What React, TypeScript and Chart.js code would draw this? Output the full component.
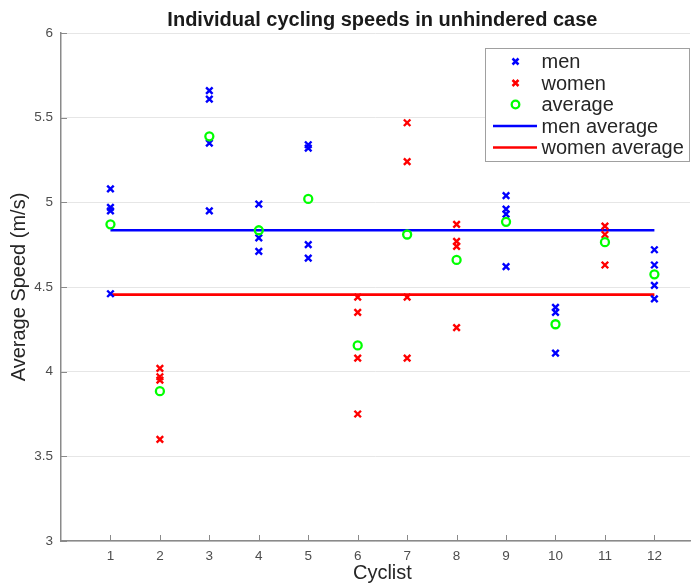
import React, { useEffect, useRef } from "react";
import { Chart, registerables } from "chart.js";

Chart.register(...registerables);

// ---- data ----
const cyclists = [1, 2, 3, 4, 5, 6, 7, 8, 9, 10, 11, 12];
const xTicks = [1, 2, 3, 4, 5, 6, 7, 8, 9, 10, 11, 12];
const yTicks = [3, 3.5, 4, 4.5, 5, 5.5, 6];

const menSpeeds: number[][] = [
  [5.08, 4.97, 4.95, 4.46],
  [],
  [5.66, 5.61, 5.35, 4.95],
  [4.99, 4.79, 4.71],
  [5.34, 5.32, 4.75, 4.67],
  [],
  [],
  [],
  [5.04, 4.96, 4.93, 4.62],
  [4.38, 4.35, 4.11],
  [],
  [4.72, 4.63, 4.51, 4.43],
];

const womenSpeeds: number[][] = [
  [],
  [4.02, 3.97, 3.95, 3.6],
  [],
  [],
  [],
  [4.44, 4.35, 4.08, 3.75],
  [5.47, 5.24, 4.44, 4.08],
  [4.87, 4.77, 4.74, 4.26],
  [],
  [],
  [4.86, 4.81, 4.63],
  [],
];

const averageSpeeds = [4.87, 3.885, 5.39, 4.835, 5.02, 4.155, 4.81, 4.66, 4.885, 4.28, 4.765, 4.575];

const menAverage = 4.835;
const womenAverage = 4.455;

const titleText = "Individual cycling speeds in unhindered case";
const xTitleText = "Cyclist";
const yTitleText = "Average Speed (m/s)";
const legendLabels = ["men", "women", "average", "men average", "women average"];

// full MATLAB x-limits (the figure is cropped on the right)
const xLimFull = [0, 13];

const BLUE = "#0000ff";
const RED = "#ff0000";
const GREEN = "#00ff00";
const FONT = "'Liberation Sans', Arial, Helvetica, sans-serif";

const toPoints = (groups: number[][]) =>
  groups.flatMap((vals, i) => vals.map((v) => ({ x: cyclists[i], y: v })));

const innerTicksPlugin = {
  id: "innerTicks",
  beforeDatasetsDraw(chart: any) {
    const { ctx, chartArea, scales } = chart;
    ctx.save();
    ctx.strokeStyle = "#8a8a8a";
    ctx.lineWidth = 1;
    yTicks.forEach((v) => {
      const y = Math.round(scales.y.getPixelForValue(v)) + 0.5;
      ctx.beginPath();
      ctx.moveTo(chartArea.left, y);
      ctx.lineTo(chartArea.left + 6, y);
      ctx.stroke();
    });
    xTicks.forEach((v) => {
      const x = Math.round(scales.x.getPixelForValue(v)) + 0.5;
      ctx.beginPath();
      ctx.moveTo(x, chartArea.bottom);
      ctx.lineTo(x, chartArea.bottom - 6);
      ctx.stroke();
    });
    ctx.restore();
  },
};

const titlesPlugin = {
  id: "centeredTitles",
  afterDraw(chart: any) {
    const { ctx, scales } = chart;
    const cx = scales.x.getPixelForValue((xLimFull[0] + xLimFull[1]) / 2);
    ctx.save();
    ctx.textAlign = "center";
    ctx.textBaseline = "alphabetic";
    ctx.fillStyle = "#1a1a1a";
    ctx.font = `bold 20px ${FONT}`;
    ctx.fillText(titleText, cx, 26);
    ctx.fillStyle = "#262626";
    ctx.font = `20px ${FONT}`;
    ctx.fillText(xTitleText, cx, 579);
    ctx.restore();
  },
};

const legendPlugin = {
  id: "boxLegend",
  afterDraw(chart: any) {
    const { ctx, chartArea } = chart;
    const right = Math.min(chartArea.right, chart.width - 1);
    const left = right - 205;
    const top = chartArea.top + 15;
    const height = 113;
    ctx.save();
    ctx.fillStyle = "#ffffff";
    ctx.fillRect(left, top, right - left, height);
    ctx.strokeStyle = "#a0a0a0";
    ctx.lineWidth = 1;
    ctx.strokeRect(Math.round(left) + 0.5, Math.round(top) + 0.5, right - left - 1, height);
    const rowH = 21.5;
    const markerX = left + 30.5;
    const textX = left + 56.5;
    ctx.font = `20px ${FONT}`;
    ctx.textBaseline = "middle";
    ctx.textAlign = "left";
    legendLabels.forEach((label, i) => {
      const y = top + 13.5 + i * rowH;
      if (i === 0 || i === 1) {
        ctx.strokeStyle = i === 0 ? BLUE : RED;
        ctx.lineWidth = 2.5;
        const d = 3;
        ctx.beginPath();
        ctx.moveTo(markerX - d, y - d);
        ctx.lineTo(markerX + d, y + d);
        ctx.moveTo(markerX - d, y + d);
        ctx.lineTo(markerX + d, y - d);
        ctx.stroke();
      } else if (i === 2) {
        ctx.strokeStyle = GREEN;
        ctx.lineWidth = 2.3;
        ctx.beginPath();
        ctx.arc(markerX, y, 3.8, 0, Math.PI * 2);
        ctx.stroke();
      } else {
        ctx.strokeStyle = i === 3 ? BLUE : RED;
        ctx.lineWidth = 2.5;
        ctx.beginPath();
        ctx.moveTo(left + 8, y);
        ctx.lineTo(left + 52, y);
        ctx.stroke();
      }
      ctx.fillStyle = "#262626";
      ctx.fillText(label, textX, y + 1);
    });
    ctx.restore();
  },
};

export default function App() {
  const canvasRef = useRef<HTMLCanvasElement | null>(null);

  useEffect(() => {
    if (!canvasRef.current) return;
    const chart = new Chart(canvasRef.current, {
      type: "scatter",
      data: {
        datasets: [
          {
            type: "line",
            label: "men average",
            data: [
              { x: cyclists[0], y: menAverage },
              { x: cyclists[cyclists.length - 1], y: menAverage },
            ],
            borderColor: BLUE,
            borderWidth: 2.6,
            pointRadius: 0,
            showLine: true,
            order: 3,
          },
          {
            type: "line",
            label: "women average",
            data: [
              { x: cyclists[0], y: womenAverage },
              { x: cyclists[cyclists.length - 1], y: womenAverage },
            ],
            borderColor: RED,
            borderWidth: 2.6,
            pointRadius: 0,
            showLine: true,
            order: 3,
          },
          {
            label: "men",
            data: toPoints(menSpeeds),
            pointStyle: "crossRot",
            pointRadius: 4.6,
            pointBorderWidth: 2.4,
            borderColor: BLUE,
            backgroundColor: BLUE,
            order: 2,
          },
          {
            label: "women",
            data: toPoints(womenSpeeds),
            pointStyle: "crossRot",
            pointRadius: 4.6,
            pointBorderWidth: 2.4,
            borderColor: RED,
            backgroundColor: RED,
            order: 2,
          },
          {
            label: "average",
            data: averageSpeeds.map((v, i) => ({ x: cyclists[i], y: v })),
            pointStyle: "circle",
            pointRadius: 4,
            pointBorderWidth: 2.3,
            borderColor: GREEN,
            backgroundColor: "rgba(0,0,0,0)",
            order: 1,
          },
        ],
      },
      options: {
        responsive: false,
        animation: false,
        events: [],
        layout: { autoPadding: false, padding: { top: 33, right: 1, bottom: 0, left: 0 } },
        plugins: {
          legend: { display: false },
          tooltip: { enabled: false },
          title: { display: false },
        },
        scales: {
          x: {
            type: "linear",
            min: 0,
            max: 12.72,
            afterBuildTicks: (scale: any) => {
              scale.ticks = xTicks.map((v) => ({ value: v }));
            },
            afterFit: (scale: any) => {
              scale.height = 45;
              scale.paddingLeft = 0;
              scale.paddingRight = 0;
            },
            grid: { display: false, drawTicks: false },
            border: { display: true, color: "#8a8a8a", width: 1.5 },
            ticks: {
              color: "#4d4d4d",
              font: { family: FONT, size: 13.5 },
              padding: 7,
              maxRotation: 0,
              autoSkip: false,
            },
            title: { display: false, text: xTitleText },
          },
          y: {
            type: "linear",
            min: 3,
            max: 6,
            afterBuildTicks: (scale: any) => {
              scale.ticks = yTicks.map((v) => ({ value: v }));
            },
            afterFit: (scale: any) => {
              scale.width = 61;
              scale.paddingTop = 0;
              scale.paddingBottom = 0;
            },
            grid: { display: true, drawTicks: false, color: "#e6e6e6", lineWidth: 1 },
            border: { display: true, color: "#8a8a8a", width: 1.5 },
            ticks: {
              color: "#4d4d4d",
              font: { family: FONT, size: 13.5 },
              padding: 8,
              callback: (v: any) => String(v),
            },
            title: {
              display: true,
              text: yTitleText,
              color: "#262626",
              font: { family: FONT, size: 20 },
              padding: { top: 7, bottom: 0 },
            },
          },
        },
      },
      plugins: [innerTicksPlugin, titlesPlugin, legendPlugin],
    });
    return () => chart.destroy();
  }, []);

  return (
    <div style={{ position: "fixed", left: 0, top: 0, width: 691, height: 586, background: "#ffffff" }}>
      <canvas ref={canvasRef} width={691} height={586} style={{ display: "block" }} />
    </div>
  );
}
